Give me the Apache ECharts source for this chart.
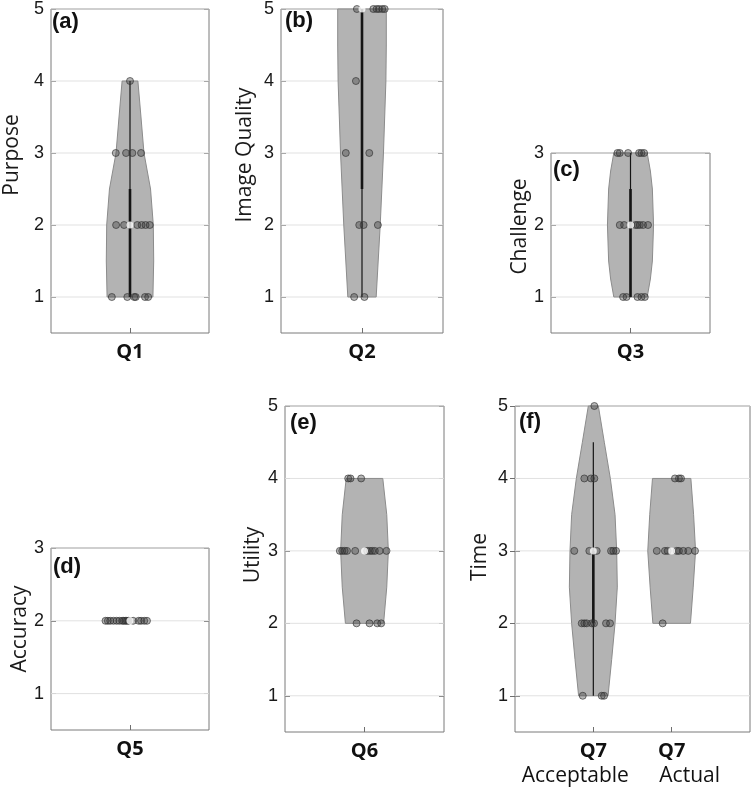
<!DOCTYPE html>
<html><head><meta charset="utf-8">
<script src="https://cdn.jsdelivr.net/npm/echarts@6/dist/echarts.min.js"></script>
<style>html,body{margin:0;padding:0;background:#fff}#chart{width:755px;height:788px}</style>
</head><body><div id="chart"></div>
<script>
// ---------------- data ----------------
const panelLetters = ['(a)', '(b)', '(c)', '(d)', '(e)', '(f)'];
const yNames = ['Purpose', 'Image Quality', 'Challenge', 'Accuracy', 'Utility', 'Time'];
const yTicks5 = [1, 2, 3, 4, 5];
const yTicks3 = [1, 2, 3];
const catLabels = [['Q1'], ['Q2'], ['Q3'], ['Q5'], ['Q6'], ['Q7', 'Q7']];
const catSubLabels = ['Acceptable', 'Actual'];

// violin outlines: response levels and half-widths (x units)
const q1OutlineY = [1, 1.5, 2, 2.5, 3, 3.5, 4];
const q1OutlineW = [0.29, 0.30, 0.295, 0.26, 0.177, 0.139, 0.10];
const q2OutlineY = [1, 1.5, 2, 2.5, 3, 3.5, 4, 4.5, 5];
const q2OutlineW = [0.175, 0.2, 0.225, 0.245, 0.265, 0.28, 0.295, 0.3, 0.30];
const q3OutlineY = [1, 1.25, 1.5, 2, 2.5, 2.75, 3];
const q3OutlineW = [0.21, 0.25, 0.275, 0.29, 0.275, 0.25, 0.21];
const q6OutlineY = [2, 2.5, 3, 3.5, 4];
const q6OutlineW = [0.24, 0.28, 0.30, 0.28, 0.23];
const q7aOutlineY = [1, 1.5, 2, 2.5, 3, 3.5, 4, 4.5, 5];
const q7aOutlineW = [0.188, 0.234, 0.277, 0.306, 0.298, 0.277, 0.217, 0.14, 0.064];
const q7bOutlineY = [2, 2.5, 3, 3.5, 4];
const q7bOutlineW = [0.24, 0.275, 0.305, 0.28, 0.245];

// individual responses and their horizontal jitter (x units)
const q1Values = [4, 3, 3, 3, 3, 2, 2, 2, 2, 2, 2, 1, 1, 1, 1, 1, 1];
const q1Jitter = [0, -0.18, -0.05, 0.03, 0.14, -0.176, -0.075, 0.092, 0.147, 0.197, 0.25, -0.23, -0.034, 0.054, 0.072, 0.19, 0.23];
const q2Values = [5, 5, 5, 5, 5, 5, 4, 3, 3, 2, 2, 2, 1, 1];
const q2Jitter = [-0.063, 0.14, 0.18, 0.21, 0.25, 0.28, -0.075, -0.2, 0.09, -0.034, 0.02, 0.196, -0.097, 0.03];
const q3Values = [3, 3, 3, 3, 3, 3, 2, 2, 2, 2, 2, 2, 2, 1, 1, 1, 1, 1];
const q3Jitter = [-0.164, -0.135, -0.03, 0.108, 0.138, 0.171, -0.135, -0.08, 0.063, 0.088, 0.117, 0.158, 0.22, -0.093, -0.05, 0.088, 0.138, 0.18];
const q5Values = [2, 2, 2, 2, 2, 2, 2, 2, 2, 2, 2, 2, 2, 2, 2, 2];
const q5Jitter = [-0.31, -0.28, -0.25, -0.21, -0.17, -0.135, -0.10, -0.08, -0.06, -0.04, -0.02, 0.04, 0.11, 0.14, 0.18, 0.215];
const q6Values = [4, 4, 4, 3, 3, 3, 3, 3, 3, 3, 3, 3, 3, 3, 2, 2, 2, 2];
const q6Jitter = [-0.205, -0.176, -0.042, -0.31, -0.28, -0.25, -0.22, -0.117, 0.034, 0.067, 0.097, 0.13, 0.19, 0.277, -0.1, 0.063, 0.16, 0.21];
const q7aValues = [5, 4, 4, 4, 3, 3, 3, 3, 3, 3, 2, 2, 2, 2, 2, 2, 2, 1, 1, 1];
const q7aJitter = [0.013, -0.115, -0.03, 0.013, -0.243, -0.051, 0.043, 0.226, 0.255, 0.29, -0.148, -0.115, -0.085, -0.02, 0.009, 0.162, 0.213, -0.135, 0.107, 0.137];
const q7bValues = [4, 4, 4, 3, 3, 3, 3, 3, 3, 3, 3, 2];
const q7bJitter = [0.042, 0.093, 0.119, -0.19, -0.086, -0.051, 0.064, 0.093, 0.148, 0.212, 0.298, -0.115];

// medians, whiskers and interquartile boxes
const medians = { q1: 2, q2: 5, q3: 2, q5: 2, q6: 3, q7a: 3, q7b: 3 };
const whiskers = { q1: [1, 4], q2: [1, 5], q3: [1, 3], q7a: [1, 4.5] };
const boxes = { q1: [1, 2.5], q2: [2.5, 5], q3: [1, 2.5], q7a: [2, 3] };

// ---------------- layout / build ----------------
const V = (pos, oy, ow, vals, jit, key) => ({ pos, oy, ow, vals, jit, med: medians[key], wh: whiskers[key], box: boxes[key] });

const panels = [
  { grid: { left: 51, top: 8, width: 158, height: 325 }, xMax: 2, yMax: 5, ticks: yTicks5, gap: 28, shift: 32, letterPos: [52, 11],
    violins: [V(1, q1OutlineY, q1OutlineW, q1Values, q1Jitter, 'q1')] },
  { grid: { left: 281, top: 8, width: 162, height: 325 }, xMax: 2, yMax: 5, ticks: yTicks5, gap: 25, shift: 32, letterPos: [285, 10],
    violins: [V(1, q2OutlineY, q2OutlineW, q2Values, q2Jitter, 'q2')] },
  { grid: { left: 551, top: 153, width: 159, height: 180 }, xMax: 2, yMax: 3, ticks: yTicks3, gap: 20, shift: 33, letterPos: [553, 159],
    violins: [V(1, q3OutlineY, q3OutlineW, q3Values, q3Jitter, 'q3')] },
  { grid: { left: 51, top: 548, width: 158, height: 182 }, xMax: 2, yMax: 3, ticks: yTicks3, gap: 18, shift: 20, letterPos: [53, 556],
    violins: [V(1, null, null, q5Values, q5Jitter, 'q5')] },
  { grid: { left: 285, top: 406, width: 159, height: 326 }, xMax: 2, yMax: 5, ticks: yTicks5, gap: 21, shift: 28, letterPos: [290, 412],
    violins: [V(1, q6OutlineY, q6OutlineW, q6Values, q6Jitter, 'q6')] },
  { grid: { left: 515, top: 406, width: 235, height: 326 }, xMax: 3, yMax: 5, ticks: yTicks5, gap: 24, shift: 24, letterPos: [519, 411],
    violins: [V(1, q7aOutlineY, q7aOutlineW, q7aValues, q7aJitter, 'q7a'), V(2, q7bOutlineY, q7bOutlineW, q7bValues, q7bJitter, 'q7b')] }
];

const tickFont = 'Liberation Sans, Arial, sans-serif';
const labelFont = 'Open Sans, sans-serif';
const axisGray = '#6e6e6e';

const option = { animation: false, backgroundColor: '#fff', grid: [], xAxis: [], yAxis: [], series: [], title: [] };

panels.forEach((p, gi) => {
  option.grid.push(Object.assign({ show: true, borderColor: '#7a7a7a', borderWidth: 1, backgroundColor: 'transparent' }, p.grid));
  const multi = p.violins.length > 1;
  let xi = -1;
  // one x axis per category so that the long multi-line labels are never culled
  p.violins.forEach((v, ci) => {
    const idxNow = option.xAxis.length;
    if (xi < 0) xi = idxNow;
    option.xAxis.push({
      gridIndex: gi, type: 'value', min: 0, max: p.xMax, position: 'bottom',
      axisLine: { show: false }, splitLine: { show: false },
      axisTick: { show: true, inside: true, length: 5, customValues: [v.pos], lineStyle: { color: axisGray } },
      axisLabel: {
        show: true, customValues: [v.pos], margin: 7, color: '#111', hideOverlap: false,
        formatter: () => {
          const q = catLabels[gi][ci];
          if (!multi) return '{q|' + q + '}';
          return '{q|' + q + '}\n{s' + ci + '|' + catSubLabels[ci] + '}';
        },
        rich: {
          q: { fontFamily: labelFont, fontWeight: 'bold', fontSize: 20, lineHeight: 24, color: '#111' },
          s0: { fontFamily: labelFont, fontSize: 21, lineHeight: 26, color: '#111', padding: [0, 36, 0, 0] },
          s1: { fontFamily: labelFont, fontSize: 21, lineHeight: 26, color: '#111', padding: [0, 0, 0, 36] }
        }
      }
    });
  });
  const yCommon = {
    gridIndex: gi, type: 'value', min: 0.5, max: p.yMax,
    axisLine: { show: false }, splitLine: { show: false },
    axisTick: { show: true, inside: true, length: 5, customValues: p.ticks, lineStyle: { color: axisGray } }
  };
  const yi = option.yAxis.length;
  option.yAxis.push(Object.assign({}, yCommon, {
    position: 'left',
    axisLabel: { show: true, customValues: p.ticks, margin: 7, fontFamily: tickFont, fontSize: 18, color: '#1a1a1a', hideOverlap: false },
    name: yNames[gi], nameLocation: 'middle', nameGap: p.gap,
    nameTextStyle: { fontFamily: labelFont, fontSize: 21, color: '#1a1a1a', padding: [0, 0, 0, p.shift] }
  }));
  option.yAxis.push(Object.assign({}, yCommon, { position: 'right', axisLabel: { show: false } }));

  // grid lines
  option.series.push({
    type: 'custom', xAxisIndex: xi, yAxisIndex: yi, silent: true, z: 1,
    data: p.ticks.map(t => [0, t]),
    renderItem: (params, api) => {
      const a = api.coord([0, api.value(1)]);
      const b = api.coord([p.xMax, api.value(1)]);
      return { type: 'line', shape: { x1: a[0], y1: a[1], x2: b[0], y2: b[1] }, style: { stroke: '#e1e1e1', lineWidth: 1 } };
    }
  });

  p.violins.forEach(v => {
    if (v.oy) {
      option.series.push({
        type: 'custom', xAxisIndex: xi, yAxisIndex: yi, silent: true, z: 2,
        data: [[v.pos, v.med]],
        renderItem: (params, api) => {
          const pts = [];
          for (let i = 0; i < v.oy.length; i++) pts.push(api.coord([v.pos + v.ow[i], v.oy[i]]));
          for (let i = v.oy.length - 1; i >= 0; i--) pts.push(api.coord([v.pos - v.ow[i], v.oy[i]]));
          return { type: 'polygon', shape: { points: pts }, style: { fill: '#b3b3b3', stroke: '#8c8c8c', lineWidth: 1 } };
        }
      });
    }
    const seg = (range, w) => ({
      type: 'custom', xAxisIndex: xi, yAxisIndex: yi, silent: true, z: 3,
      data: [[v.pos, range[0], range[1]]],
      renderItem: (params, api) => {
        const a = api.coord([api.value(0), api.value(1)]);
        const b = api.coord([api.value(0), api.value(2)]);
        return { type: 'line', shape: { x1: a[0], y1: a[1], x2: b[0], y2: b[1] }, style: { stroke: '#151515', lineWidth: w } };
      }
    });
    if (v.wh) option.series.push(seg(v.wh, 1.2));
    if (v.box) option.series.push(seg(v.box, 2.6));
    option.series.push({
      type: 'scatter', xAxisIndex: xi, yAxisIndex: yi, z: 4, symbol: 'circle', symbolSize: 7,
      itemStyle: { color: 'rgba(55,55,55,0.45)', borderColor: '#2e2e2e', borderWidth: 0.8 },
      data: v.vals.map((val, i) => [v.pos + v.jit[i], val])
    });
    option.series.push({
      type: 'scatter', xAxisIndex: xi, yAxisIndex: yi, z: 5, symbol: 'circle', symbolSize: 7,
      itemStyle: { color: '#ffffff', borderWidth: 0 },
      data: [[v.pos, v.med]]
    });
  });

  option.title.push({
    text: panelLetters[gi], left: p.letterPos[0], top: p.letterPos[1], padding: 0,
    textStyle: { fontFamily: tickFont, fontWeight: 'bold', fontSize: 22, color: '#111' }
  });
});

const chart = echarts.init(document.getElementById('chart'), null, { renderer: 'canvas' });
chart.setOption(option);
</script>
</body></html>
